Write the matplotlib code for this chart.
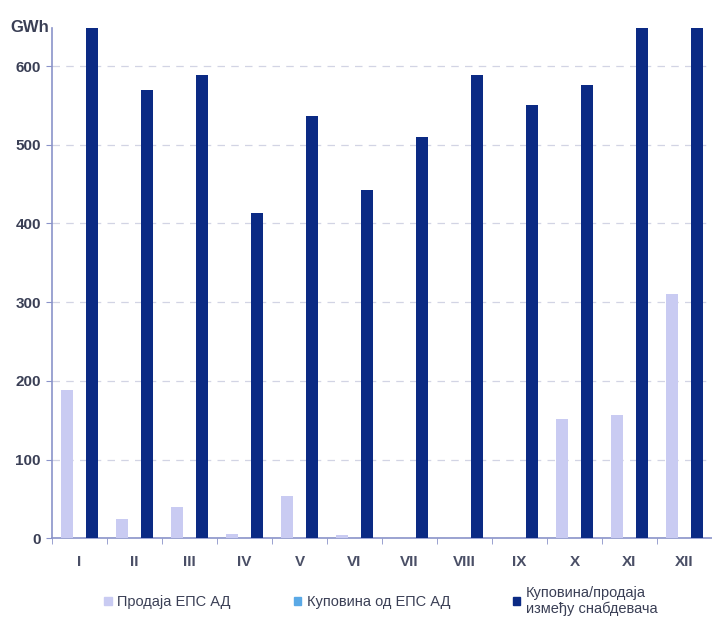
import numpy as np
import matplotlib
matplotlib.use("Agg")
import matplotlib.pyplot as plt
from matplotlib.patches import Patch

plt.rcParams['font.family'] = ['Liberation Sans Narrow', 'Liberation Sans', 'DejaVu Sans']

months = ["I", "II", "III", "IV", "V", "VI", "VII", "VIII", "IX", "X", "XI", "XII"]
prodaja_eps = [188, 24, 40, 5, 53, 4, 0, 0, 0, 152, 157, 310]
kupovina_eps = [0, 0, 0, 0, 0, 0, 0, 0, 0, 0, 0, 0]
izmedju_snabd = [660, 570, 589, 413, 537, 443, 510, 588, 551, 576, 660, 660]
labels = ["Продаја ЕПС АД", "Куповина од ЕПС АД", "Куповина/продаја\nизмеђу снабдевача"]

c_light = "#c9cbf2"
c_blue = "#5aa9e6"
c_dark = "#0b2a84"
axis_col = "#8a93c9"
text_col = "#3a3f55"

fig = plt.figure(figsize=(7.12, 6.28), dpi=100)
ax = fig.add_axes([0.073, 0.143, 0.927, 0.812])

x = np.arange(len(months))
w = 0.225
ax.bar(x - w, prodaja_eps, w * 0.95, color=c_light, zorder=3)
ax.bar(x, kupovina_eps, w * 0.95, color=c_blue, zorder=3)
ax.bar(x + w, izmedju_snabd, w, color=c_dark, zorder=3)

ax.set_xlim(-0.5, 11.4)
ax.set_ylim(0, 648)
ax.set_yticks(range(0, 700, 100))
ax.set_xticks(x)
ax.set_xticklabels(months)
ax.set_xticks(np.arange(-0.5, 12, 1), minor=True)
ax.tick_params(axis='x', which='major', length=0, pad=12, labelsize=11, colors="#4a4f66")
ax.tick_params(axis='x', which='minor', length=4, color=axis_col, direction='out')
ax.tick_params(axis='y', length=4, color=axis_col, labelsize=11, colors=text_col, pad=4)
for t in ax.get_yticklabels() + ax.get_xticklabels():
    t.set_fontweight('bold')

ax.yaxis.grid(True, color="#d2d4e4", linestyle=(0, (6, 5)), linewidth=0.9, zorder=0)
for s in ['top', 'right']:
    ax.spines[s].set_visible(False)
ax.spines['left'].set_color(axis_col)
ax.spines['bottom'].set_color(axis_col)
ax.spines['left'].set_linewidth(1.2)
ax.spines['bottom'].set_linewidth(1.2)

fig.text(0.015, 0.957, "GWh", fontsize=12, fontweight='bold', color=text_col, va='center')

handles = [Patch(color=c_light), Patch(color=c_blue), Patch(color=c_dark)]
fig.legend(handles, labels, loc='center', bbox_to_anchor=(0.535, 0.043), ncol=3,
           frameon=False, handlelength=0.5, handleheight=0.5, handletextpad=0.4,
           columnspacing=4.3, fontsize=10.5, labelcolor=text_col)

plt.savefig('out.png', dpi=100)
